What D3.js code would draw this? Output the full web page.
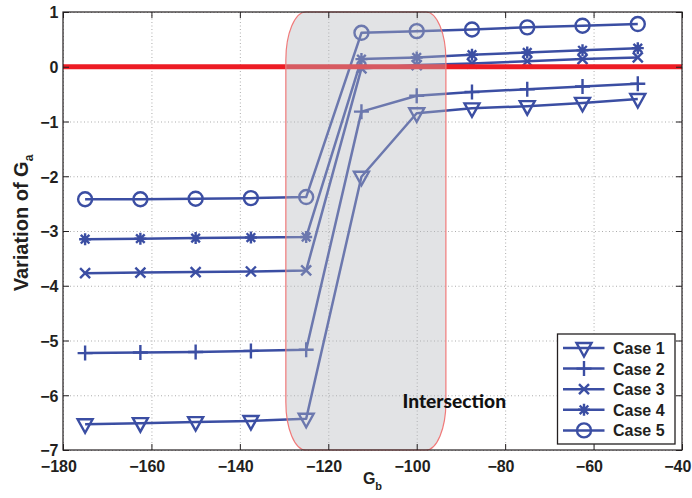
<!DOCTYPE html>
<html>
<head>
<meta charset="utf-8">
<script src="https://cdn.jsdelivr.net/npm/d3@7/dist/d3.min.js"></script>
<style>
  html, body { margin: 0; padding: 0; background: #fff; }
  svg { display: block; }
  .tick-label { font-family: "Liberation Sans", Arial, sans-serif; font-weight: bold; font-size: 16px; fill: #231f20; }
</style>
</head>
<body>
<svg id="chart" width="692" height="498"></svg>
<script>
// G_b sample positions shared by every case
const gb = [-175, -162.5, -150, -137.5, -125, -112.5, -100, -87.5, -75, -62.5, -50];

// Variation of G_a for each case
const case1 = [-6.53, -6.51, -6.49, -6.47, -6.43, -2.01, -0.85, -0.76, -0.72, -0.66, -0.59];
const case2 = [-5.23, -5.22, -5.21, -5.19, -5.17, -0.82, -0.53, -0.46, -0.41, -0.36, -0.31];
const case3 = [-3.77, -3.76, -3.75, -3.74, -3.72, -0.03, 0.03, 0.06, 0.10, 0.14, 0.17];
const case4 = [-3.15, -3.14, -3.13, -3.12, -3.11, 0.14, 0.17, 0.22, 0.26, 0.30, 0.34];
const case5 = [-2.42, -2.42, -2.41, -2.40, -2.38, 0.62, 0.65, 0.68, 0.72, 0.75, 0.78];

const caseNames = ["Case 1", "Case 2", "Case 3", "Case 4", "Case 5"];
const caseMarkers = ["triangle", "plus", "cross", "asterisk", "circle"];

// Axis ticks
const xTicks = [-180, -160, -140, -120, -100, -80, -60, -40];
const yTicks = [-7, -6, -5, -4, -3, -2, -1, 0, 1];

// Shaded intersection band (G_b range) and reference level
const intersection = [-129.6, -93.4];
const zeroLevel = 0;

const series = [case1, case2, case3, case4, case5].map((vals, i) => ({
  name: caseNames[i],
  marker: caseMarkers[i],
  points: vals.map((v, j) => ({ x: gb[j], y: v }))
}));

const svg = d3.select("#chart");
const plot = { left: 63, right: 682, top: 12, bottom: 450 };

const x = d3.scaleLinear().domain([-180, -40]).range([plot.left, plot.right]);
const y = d3.scaleLinear().domain([-7, 1]).range([plot.bottom, plot.top]);

const blue = "#3b4ea3";
const red = "#ed1c24";

// Dotted grid
svg.append("g")
  .attr("transform", `translate(0,${plot.bottom})`)
  .call(d3.axisBottom(x).tickValues(xTicks).tickSize(-(plot.bottom - plot.top)).tickFormat(""))
  .call(g => g.select(".domain").remove())
  .call(g => g.selectAll(".tick line").attr("stroke", "#a4a4a4").attr("stroke-width", 0.9).attr("stroke-dasharray", "1,2.5"));
svg.append("g")
  .attr("transform", `translate(${plot.left},0)`)
  .call(d3.axisLeft(y).tickValues(yTicks).tickSize(-(plot.right - plot.left)).tickFormat(""))
  .call(g => g.select(".domain").remove())
  .call(g => g.selectAll(".tick line").attr("stroke", "#a4a4a4").attr("stroke-width", 0.9).attr("stroke-dasharray", "1,2.5"));

// Marker shapes
function drawMarker(g, type) {
  const s = g.append("g");
  if (type === "triangle") {
    s.append("path").attr("d", "M-7.5,-5 L7.5,-5 L0,8.5 Z")
      .attr("fill", "none").attr("stroke", blue).attr("stroke-width", 2.4).attr("stroke-linejoin", "miter");
  } else if (type === "plus") {
    s.append("path").attr("d", "M-7.5,0 L7.5,0 M0,-7.5 L0,7.5")
      .attr("stroke", blue).attr("stroke-width", 2.4);
  } else if (type === "cross") {
    s.append("path").attr("d", "M-5,-5 L5,5 M-5,5 L5,-5")
      .attr("stroke", blue).attr("stroke-width", 2.4);
  } else if (type === "asterisk") {
    s.append("path").attr("d", "M-6,0 L6,0 M0,-6 L0,6 M-4.3,-4.3 L4.3,4.3 M-4.3,4.3 L4.3,-4.3")
      .attr("stroke", blue).attr("stroke-width", 2.4);
  } else if (type === "circle") {
    s.append("circle").attr("r", 7)
      .attr("fill", "none").attr("stroke", blue).attr("stroke-width", 2.4);
  }
  return s;
}

// Case lines and markers
const line = d3.line().x(d => x(d.x)).y(d => y(d.y));
const seriesG = svg.append("g");
series.forEach(s => {
  seriesG.append("path").datum(s.points)
    .attr("d", line)
    .attr("fill", "none").attr("stroke", blue).attr("stroke-width", 2.5).attr("stroke-linejoin", "round");
  s.points.forEach(p => {
    drawMarker(seriesG, s.marker).attr("transform", `translate(${x(p.x)},${y(p.y)})`);
  });
});

// Zero reference line
svg.append("line")
  .attr("x1", x(-180)).attr("x2", x(-40))
  .attr("y1", y(zeroLevel)).attr("y2", y(zeroLevel))
  .attr("stroke", red).attr("stroke-width", 5);

// Intersection band
svg.append("rect")
  .attr("x", x(intersection[0])).attr("y", y(1))
  .attr("width", x(intersection[1]) - x(intersection[0]))
  .attr("height", y(-7) - y(1))
  .attr("rx", 20).attr("ry", 48)
  .attr("fill", "#b6b8bf").attr("fill-opacity", 0.4)
  .attr("stroke", "#f07a7a").attr("stroke-width", 1.2);

// Axes box with inward ticks
const axisStyle = g => {
  g.select(".domain").remove();
  g.selectAll(".tick line").attr("stroke", "#231f20").attr("stroke-width", 1);
};
const xAxis = svg.append("g")
  .attr("transform", `translate(0,${plot.bottom})`)
  .call(d3.axisBottom(x).tickValues(xTicks).tickSizeInner(-6).tickSizeOuter(0).tickPadding(15))
  .call(axisStyle);
xAxis.selectAll(".tick text")
  .attr("class", "tick-label")
  .attr("dx", d => d < 0 ? -4.7 : 0)
  .attr("dy", "0.75em")
  .attr("y", 9.5);
svg.append("g")
  .attr("transform", `translate(0,${plot.top})`)
  .call(d3.axisTop(x).tickValues(xTicks).tickSizeInner(-6).tickSizeOuter(0).tickFormat(""))
  .call(axisStyle);
const yAxis = svg.append("g")
  .attr("transform", `translate(${plot.left},0)`)
  .call(d3.axisLeft(y).tickValues(yTicks).tickSizeInner(-6).tickSizeOuter(0))
  .call(axisStyle);
yAxis.selectAll(".tick text")
  .attr("class", "tick-label")
  .attr("x", -4.5)
  .attr("dy", "0.36em");
svg.append("g")
  .attr("transform", `translate(${plot.right},0)`)
  .call(d3.axisRight(y).tickValues(yTicks).tickSizeInner(-6).tickSizeOuter(0).tickFormat(""))
  .call(axisStyle);
svg.append("rect")
  .attr("x", plot.left).attr("y", plot.top)
  .attr("width", plot.right - plot.left).attr("height", plot.bottom - plot.top)
  .attr("fill", "none").attr("stroke", "#231f20").attr("stroke-width", 1.2);

// Axis titles
const xl = svg.append("text")
  .attr("x", (plot.left + plot.right) / 2).attr("y", 484)
  .attr("text-anchor", "middle")
  .style("font-family", "'Liberation Sans', Arial, sans-serif")
  .style("font-weight", "bold").style("font-size", "16px").style("fill", "#231f20");
xl.append("tspan").text("G");
xl.append("tspan").attr("dy", 6).style("font-size", "11px").text("b");

const yl = svg.append("text")
  .attr("transform", `translate(28,${(plot.top + plot.bottom) / 2 - 8}) rotate(-90)`)
  .attr("text-anchor", "middle")
  .style("font-family", "'Liberation Sans', Arial, sans-serif")
  .style("font-weight", "bold").style("font-size", "20px").style("fill", "#231f20");
yl.append("tspan").text("Variation of G");
yl.append("tspan").attr("dy", 5).style("font-size", "12px").text("a");

// Band annotation
svg.append("text")
  .attr("x", 402.5).attr("y", 408)
  .attr("textLength", 103.5).attr("lengthAdjust", "spacingAndGlyphs")
  .style("font-family", "Lato, 'Open Sans', sans-serif")
  .style("font-weight", "900").style("font-size", "18px").style("fill", "#111")
  .text("Intersection");

// Legend
const legend = svg.append("g");
legend.append("rect")
  .attr("x", 557.5).attr("y", 334).attr("width", 117.5).attr("height", 110)
  .attr("fill", "#fff").attr("stroke", "#231f20").attr("stroke-width", 1.3);
series.forEach((s, i) => {
  const ly = 348 + i * 20.6;
  legend.append("line")
    .attr("x1", 563).attr("x2", 604.5).attr("y1", ly).attr("y2", ly)
    .attr("stroke", blue).attr("stroke-width", 2.5);
  drawMarker(legend, s.marker).attr("transform", `translate(584,${ly})`);
  legend.append("text")
    .attr("x", 613).attr("y", ly + 6)
    .style("font-family", "'Liberation Sans', Arial, sans-serif")
    .style("font-weight", "bold").style("font-size", "16px").style("fill", "#231f20")
    .text(s.name);
});
</script>
</body>
</html>
